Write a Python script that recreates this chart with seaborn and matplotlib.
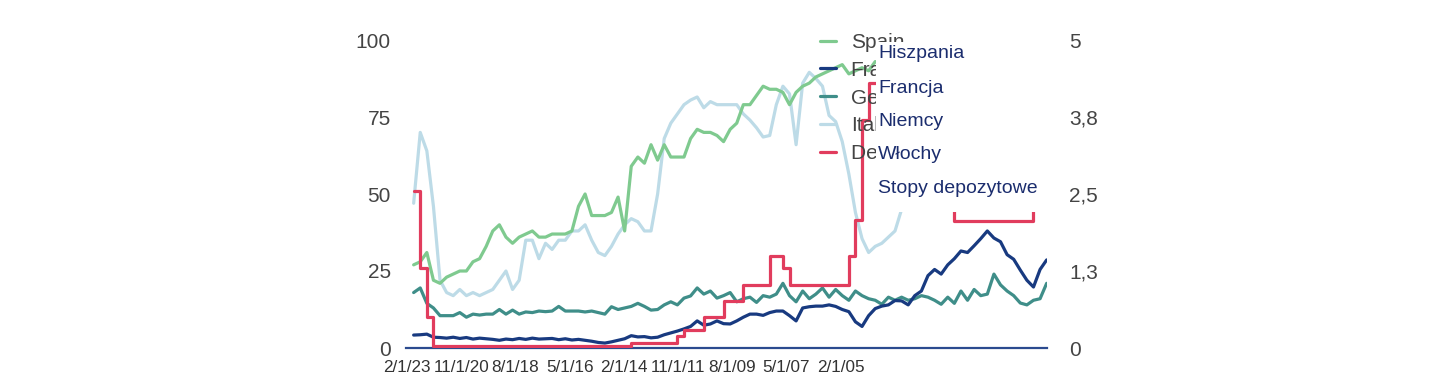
import matplotlib
matplotlib.use("Agg")
import matplotlib.pyplot as plt
from matplotlib.patches import Rectangle
import pandas as pd
import seaborn as sns

# ── Data (newest point first) ────────────────────────────────────────────────

spain = [
    27, 28, 31, 22, 21, 23, 24, 25, 25, 28, 29,
    33, 38, 40, 36, 34, 36, 37, 38, 36, 36,
    37, 37, 37, 38, 46, 50, 43, 43, 43, 44,
    49, 38, 59, 62, 60, 66, 61, 66, 62, 62,
    62, 68, 71, 70, 70, 69, 67, 71, 73, 79,
    79, 82, 85, 84, 84, 83, 79, 83, 85, 86,
    88, 89, 90, 91, 92, 89, 90, 91, 90, 93,
    92, 91, 92, 90, 91, 92, 90, 91, 89, 90,
    91, 90, 92, 91, 90, 89, 90, 91, 90, 92,
    91, 90, 89, 90, 91, 90,
]
france = [
    4.2, 4.3, 4.5, 3.5, 3.4, 3.2, 3.5, 3.1, 3.4, 2.9, 3.2,
    3.0, 2.8, 2.5, 2.9, 2.7, 3.1, 2.8, 3.2, 2.9, 3.0,
    3.1, 2.7, 3.0, 2.6, 2.8, 2.5, 2.2, 1.8, 1.6, 2.0,
    2.5, 3.0, 4.0, 3.6, 3.7, 3.3, 3.5, 4.3, 4.9, 5.5,
    6.2, 7.0, 8.8, 7.4, 7.8, 8.8, 7.9, 7.8, 8.8, 10.0,
    11.0, 11.0, 10.6, 11.5, 12.0, 12.0, 10.5, 8.8, 13.0, 13.4,
    13.6, 13.6, 14.0, 13.5, 12.5, 11.8, 8.5, 7.0, 10.5, 12.8,
    13.6, 14.0, 15.4, 15.3, 14.0, 17.0, 18.5, 23.5, 25.5, 24.0,
    27.0, 29.0, 31.5, 31.0, 33.2, 35.5, 38.0, 35.7, 34.5, 30.3,
    28.8, 25.3, 22.0, 19.8, 25.5, 28.6,
]
germany = [
    18, 19.5, 14.5, 13, 10.5, 10.5, 10.5, 11.5, 10, 11, 10.7,
    11, 11, 12.5, 11, 12.3, 11, 11.7, 11.5, 12, 11.8,
    12, 13.5, 12, 12, 12, 11.7, 12, 11.5, 11, 13.4,
    12.5, 13, 13.5, 14.5, 13.5, 12.3, 12.5, 14, 15, 14,
    16.2, 16.9, 19.5, 17.5, 18.5, 16.2, 17, 18, 15, 16,
    16.5, 14.8, 17, 16.5, 17.5, 21, 17, 15, 18.5, 16,
    17.5, 19.5, 16.5, 19, 17, 15.5, 18.5, 17, 16, 15.5,
    14.2, 16.5, 15.5, 16.5, 15.5, 16, 17, 16.5, 15.5, 14.2,
    16.5, 14.5, 18.5, 15.5, 19, 17, 17.5, 24, 20.5, 18.5,
    17, 14.6, 14, 15.5, 16, 21,
]
italy = [
    47, 70, 64, 46, 22, 18, 17, 19, 17, 18, 17,
    18, 19, 22, 25, 19, 22, 35, 35, 29, 34,
    32, 35, 35, 38, 38, 40, 35, 31, 30, 33,
    37, 40, 42, 41, 38, 38, 50, 68, 73, 76,
    79, 80.5, 81.5, 78, 80, 79, 79, 79, 79, 76,
    74, 71.5, 68.5, 69, 79, 85, 82.5, 66, 86, 89.5,
    87.5, 85, 75.5, 73.5, 67, 56.5, 44, 35.5, 31, 33,
    34, 36, 38, 45, 55, 62, 68, 72, 75, 78,
    80, 82, 83, 84, 84, 85, 85, 86, 86, 86,
    86, 86, 86, 86, 86, 86,
]
deposit = [
    2.55, 1.3, 0.5, 0.03, 0.03, 0.03, 0.03, 0.03, 0.03, 0.03, 0.03,
    0.03, 0.03, 0.03, 0.03, 0.03, 0.03, 0.03, 0.03, 0.03, 0.03,
    0.03, 0.03, 0.03, 0.03, 0.03, 0.03, 0.03, 0.03, 0.03, 0.03,
    0.03, 0.03, 0.08, 0.08, 0.08, 0.08, 0.08, 0.08, 0.08, 0.2,
    0.3, 0.3, 0.3, 0.5, 0.5, 0.5, 0.76, 0.76, 0.76, 1.02,
    1.02, 1.02, 1.02, 1.5, 1.5, 1.3, 1.02, 1.02, 1.02, 1.02,
    1.02, 1.02, 1.02, 1.02, 1.02, 1.5, 2.08, 3.7, 4.3, 4.3,
    4.3, 4.3, 4.3, 4.3, 4.3, 4.3, 4.3, 4.3, 4.3, 4.3,
    4.3, 2.06, 2.06, 2.06, 2.06, 2.06, 2.06, 2.06, 2.06, 2.06,
    2.06, 2.06, 2.06, 3.0, 3.0, 3.0,
]

# Observation dates, newest first (axis runs backwards in time)
dates = pd.date_range("1996-07-10", periods=len(spain), freq="100D")[::-1]

en_labels = ["Spain", "France", "Germany", "Italy", "Deposit rates"]
pl_labels = ["Hiszpania", "Francja", "Niemcy", "Włochy", "Stopy depozytowe"]

x_tick_labels = ["2/1/23", "11/1/20", "8/1/18", "5/1/16", "2/1/14",
                 "11/1/11", "8/1/09", "5/1/07", "2/1/05"]
left_ticks = [0, 25, 50, 75, 100]
right_ticks = [0, 1.25, 2.5, 3.75, 5]
right_tick_labels = ["0", "1,3", "2,5", "3,8", "5"]

COLORS = {
    "spain":   "#7fca8f",
    "france":  "#183a80",
    "germany": "#3f8e89",
    "italy":   "#bddbe7",
    "deposit": "#e13c5d",
}
NAVY_TEXT = "#1b2d6e"

# ── Figure ───────────────────────────────────────────────────────────────────

W, H = 1434, 388
sns.set_theme(style="white")
plt.rcParams["font.family"] = ["Liberation Sans", "DejaVu Sans"]

fig = plt.figure(figsize=(W / 100, H / 100), dpi=100)
ax = fig.add_axes([406 / W, 1 - 348 / H, (1047 - 406) / W, (348 - 40) / H])
ax2 = ax.twinx()

# draw order: Italy at the bottom, then Spain, Germany, France
lines = {}
for values, key in [(italy, "italy"), (spain, "spain"),
                    (germany, "germany"), (france, "france")]:
    sns.lineplot(x=dates, y=values, ax=ax, color=COLORS[key], linewidth=2.3,
                 sort=False, legend=False)
    lines[key] = ax.lines[-1]

# deposit rate is a step series on the right-hand scale
sns.lineplot(x=dates, y=deposit, ax=ax2, color=COLORS["deposit"], linewidth=2.3,
             sort=False, legend=False, drawstyle="steps-post")
lines["deposit"] = ax2.lines[-1]

ax.set_xlim(pd.Timestamp("2023-02-15"), pd.Timestamp("1996-07-05"))
ax.set_ylim(0, 100)
ax2.set_ylim(0, 5)

ax.set_xticks(pd.to_datetime(x_tick_labels, format="%m/%d/%y"))
ax.set_xticklabels(x_tick_labels)
ax.set_yticks(left_ticks)
ax.set_yticklabels([str(t) for t in left_ticks])
ax2.set_yticks(right_ticks)
ax2.set_yticklabels(right_tick_labels)

for a in (ax, ax2):
    a.set_xlabel("")
    a.set_ylabel("")
    a.grid(False)
    for side in ("top", "left", "right", "bottom"):
        a.spines[side].set_visible(False)
ax.spines["bottom"].set_visible(True)
ax.spines["bottom"].set_color("#2b4a8f")
ax.spines["bottom"].set_linewidth(1.6)

ax.tick_params(axis="x", length=0, pad=9, labelsize=12.3, labelcolor="#333333")
ax.tick_params(axis="y", length=0, pad=11, labelsize=15, labelcolor="#444444")
ax2.tick_params(axis="y", length=0, pad=16, labelsize=15, labelcolor="#444444")

# English legend (mostly hidden behind the Polish overlay)
order = ["spain", "france", "germany", "italy", "deposit"]
ax2.legend([lines[k] for k in order], en_labels, loc="upper left",
           bbox_to_anchor=(820 / W, 1 - 33 / H), bbox_transform=fig.transFigure,
           frameon=False, fontsize=15, handlelength=0.77, handletextpad=0.7,
           labelspacing=0.42, borderpad=0, borderaxespad=0, labelcolor="#444444")

# White box with the Polish labels on top
fig.add_artist(Rectangle((876 / W, 1 - 212 / H), (1047 - 876) / W, (212 - 42) / H,
                         transform=fig.transFigure, facecolor="white",
                         edgecolor="none", zorder=10))
for label, yb in zip(pl_labels, [58, 93, 126, 159, 193]):
    fig.text(878 / W, 1 - yb / H, label, fontsize=14, color=NAVY_TEXT,
             ha="left", va="baseline", zorder=11)

fig.savefig("out.png", dpi=100)
